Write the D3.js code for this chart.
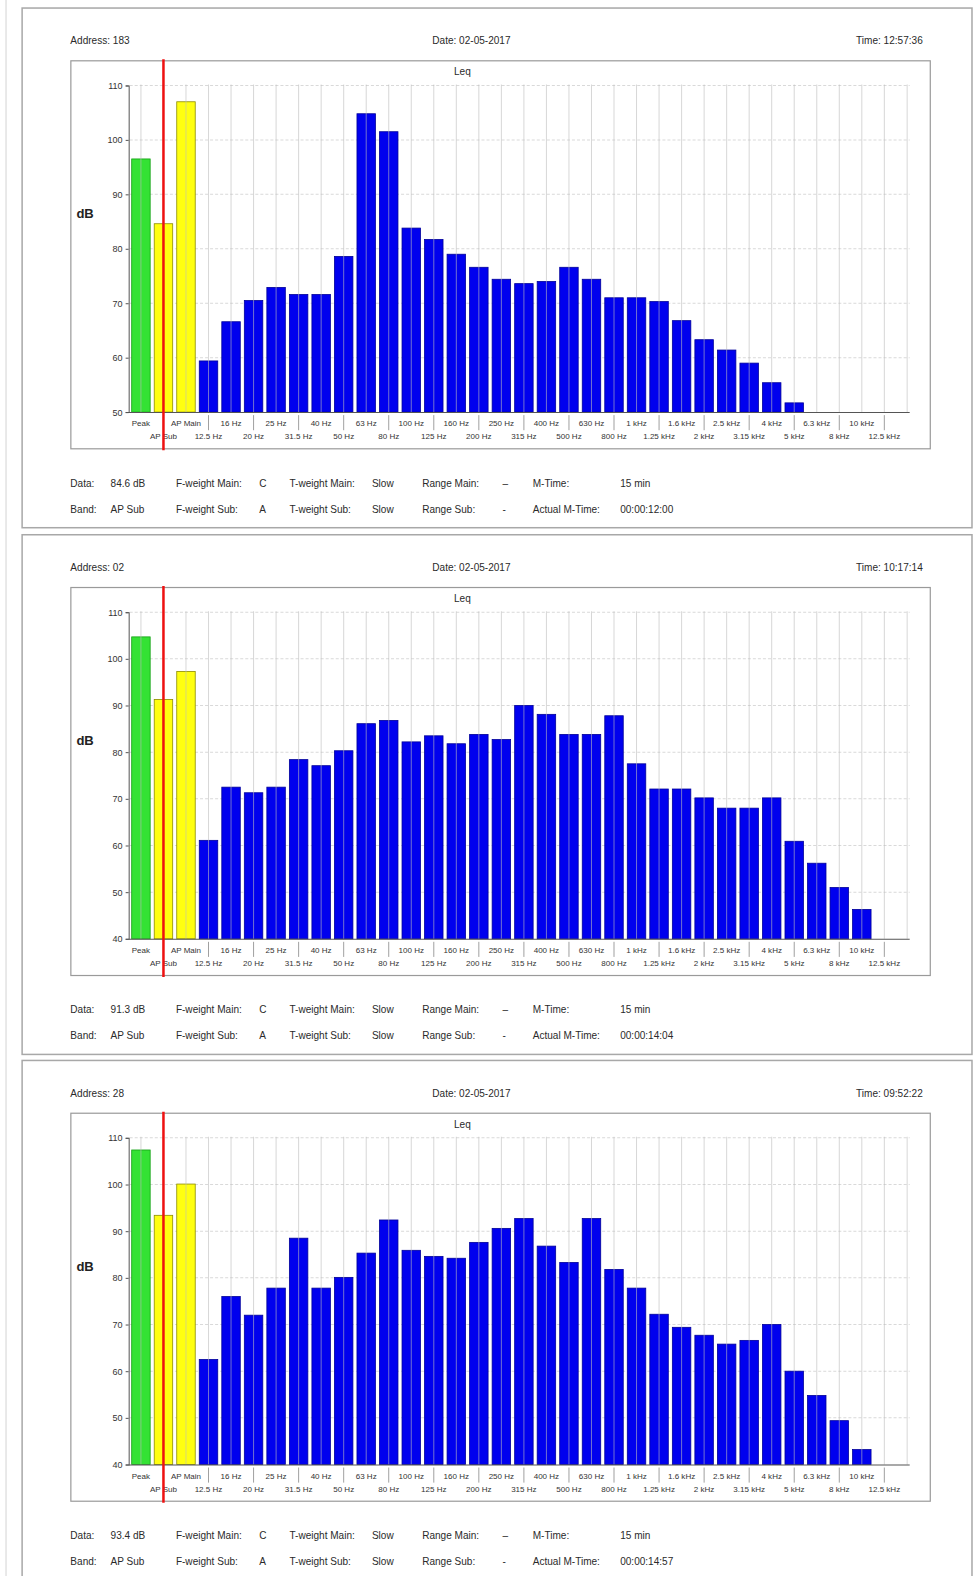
<!DOCTYPE html>
<html>
<head>
<meta charset="utf-8">
<script src="https://cdn.jsdelivr.net/npm/d3@7"></script>
<style>
  html, body { margin: 0; padding: 0; background: #fff; }
  svg { display: block; font-family: "Liberation Sans", Arial, sans-serif; }
</style>
</head>
<body>
<svg id="chart" width="973" height="1576"></svg>
<script>
// Slot labels along the x axis: overall levels first, then 1/3-octave bands
const slotLabels = ["Peak", "AP Sub", "AP Main",
  "12.5 Hz", "16 Hz", "20 Hz", "25 Hz", "31.5 Hz", "40 Hz", "50 Hz", "63 Hz", "80 Hz",
  "100 Hz", "125 Hz", "160 Hz", "200 Hz", "250 Hz", "315 Hz", "400 Hz", "500 Hz",
  "630 Hz", "800 Hz", "1 kHz", "1.25 kHz", "1.6 kHz", "2 kHz", "2.5 kHz", "3.15 kHz",
  "4 kHz", "5 kHz", "6.3 kHz", "8 kHz", "10 kHz", "12.5 kHz"];

// Leq per slot (dB); null = below the axis floor
const leqAddr183 = [96.5, 84.6, 107.0,
  59.4, 66.6, 70.5, 72.9, 71.6, 71.6, 78.6, 104.8, 101.5,
  83.8, 81.7, 79.0, 76.6, 74.4, 73.6, 74.0, 76.6,
  74.4, 71.0, 71.0, 70.3, 66.8, 63.3, 61.4, 59.0,
  55.4, 51.7, null, null, null, null];

const leqAddr02 = [104.7, 91.3, 97.3,
  61.1, 72.5, 71.3, 72.5, 78.4, 77.1, 80.3, 86.1, 86.8,
  82.2, 83.5, 81.8, 83.8, 82.7, 90.0, 88.1, 83.8,
  83.8, 87.8, 77.5, 72.1, 72.1, 70.2, 68.0, 68.0,
  70.2, 60.9, 56.2, 51.0, 46.3, null];

const leqAddr28 = [107.4, 93.4, 100.1,
  62.5, 76.0, 72.0, 77.8, 88.5, 77.8, 80.1, 85.3, 92.4,
  85.9, 84.6, 84.2, 87.6, 90.6, 92.7, 86.8, 83.3,
  92.7, 81.8, 77.8, 72.2, 69.4, 67.7, 65.8, 66.6,
  70.0, 60.0, 54.8, 49.4, 43.2, null];

// Y-axis ticks per panel
const ticksAddr183 = [50, 60, 70, 80, 90, 100, 110];
const ticksAddr40 = [40, 50, 60, 70, 80, 90, 100, 110];

// Header and footer texts per panel
const addresses = ["Address: 183", "Address: 02", "Address: 28"];
const dates = ["Date: 02-05-2017", "Date: 02-05-2017", "Date: 02-05-2017"];
const times = ["Time: 12:57:36", "Time: 10:17:14", "Time: 09:52:22"];
const dataValues = ["84.6 dB", "91.3 dB", "93.4 dB"];
const actualMTimes = ["00:00:12:00", "00:00:14:04", "00:00:14:57"];
const footerRow1 = ["Data:", null, "F-weight Main:", "C", "T-weight Main:", "Slow", "Range Main:", "–", "M-Time:", "15 min"];
const footerRow2 = ["Band:", "AP Sub", "F-weight Sub:", "A", "T-weight Sub:", "Slow", "Range Sub:", "-", "Actual M-Time:", null];

const panels = [
  { values: leqAddr183, ticks: ticksAddr183, offset: 0 },
  { values: leqAddr02, ticks: ticksAddr40, offset: 524 },
  { values: leqAddr28, ticks: ticksAddr40, offset: 1047 }
];

const svg = d3.select("#chart");
const root = svg.append("g").attr("transform", `scale(${973 / 968})`);

// faint page edge on the left
root.append("line").attr("x1", 6).attr("x2", 6).attr("y1", 0).attr("y2", 1570)
  .attr("stroke", "#e2e2e2").attr("stroke-width", 1.5);

const x = d3.scaleBand().domain(slotLabels).range([129, 891]).paddingInner(0.18).paddingOuter(0.09);
const footerX = [70, 110, 175, 258, 288, 370, 420, 500, 530, 617];

function barColor(i) {
  if (i === 0) return { fill: "#34e234", stroke: "#14a014" };
  if (i <= 2) return { fill: "#ffff10", stroke: "#8c8c00" };
  return { fill: "#0000ee", stroke: "#00009a" };
}

panels.forEach((p, k) => {
  const g = root.append("g").attr("transform", `translate(0,${p.offset})`);
  const y = d3.scaleLinear().domain([d3.min(p.ticks), d3.max(p.ticks)]).range([410, 85]);

  // outer panel frame
  g.append("rect").attr("x", 22).attr("y", 8).attr("width", 945).attr("height", 517)
    .attr("fill", "#fff").attr("stroke", "#a8a8a8").attr("stroke-width", 1.5);

  // header line
  const head = g.append("g").attr("font-size", 10).attr("fill", "#2a2a2a");
  head.append("text").attr("x", 70).attr("y", 44).text(addresses[k]);
  head.append("text").attr("x", 469).attr("y", 44).attr("text-anchor", "middle").text(dates[k]);
  head.append("text").attr("x", 918).attr("y", 44).attr("text-anchor", "end").text(times[k]);

  // inner plot frame
  g.append("rect").attr("x", 70.5).attr("y", 60.5).attr("width", 855).attr("height", 386)
    .attr("fill", "#fff").attr("stroke", "#9a9a9a").attr("stroke-width", 1.2);

  g.append("text").attr("x", 460).attr("y", 75).attr("text-anchor", "middle")
    .attr("font-size", 10).attr("fill", "#2a2a2a").text("Leq");

  // horizontal grid
  g.append("g").selectAll("line").data(p.ticks.slice(1)).join("line")
    .attr("x1", 129).attr("x2", 905)
    .attr("y1", d => y(d)).attr("y2", d => y(d))
    .attr("stroke", "#d9d9d9").attr("stroke-dasharray", "3,2");

  // bars
  const floor = y.domain()[0];
  g.append("g").selectAll("rect")
    .data(p.values.map((v, i) => ({ v, i, label: slotLabels[i] })).filter(d => d.v !== null && d.v > floor))
    .join("rect")
    .attr("x", d => x(d.label))
    .attr("width", x.bandwidth())
    .attr("y", d => y(d.v))
    .attr("height", d => y(floor) - y(d.v))
    .attr("fill", d => barColor(d.i).fill)
    .attr("stroke", d => barColor(d.i).stroke)
    .attr("stroke-width", 0.8);

  // vertical grid through slot centres
  g.append("g").selectAll("line").data(slotLabels.concat(["_end"])).join("line")
    .attr("x1", (d, i) => i < slotLabels.length ? x(d) + x.bandwidth() / 2 : 902.5)
    .attr("x2", (d, i) => i < slotLabels.length ? x(d) + x.bandwidth() / 2 : 902.5)
    .attr("y1", 84).attr("y2", 410)
    .attr("stroke", "#bdbdbd").attr("stroke-opacity", 0.6);

  // y axis
  const yAxis = g.append("g").attr("transform", "translate(128,0)")
    .call(d3.axisLeft(y).tickValues(p.ticks).tickSize(3).tickFormat(d3.format("d")));
  yAxis.select(".domain").attr("stroke", "#555");
  yAxis.selectAll(".tick line").attr("stroke", "#555");
  yAxis.selectAll("text").attr("font-size", 9).attr("fill", "#333").attr("font-family", "Liberation Sans, Arial, sans-serif").attr("x", -6);

  g.append("text").attr("x", 76).attr("y", 217).attr("font-size", 13).attr("font-weight", "bold")
    .attr("fill", "#222").text("dB");

  // x axis baseline
  g.append("line").attr("x1", 128).attr("x2", 905).attr("y1", 410.5).attr("y2", 410.5)
    .attr("stroke", "#555");

  // staggered slot labels with separators for the lower row
  const xl = g.append("g").attr("font-size", 8).attr("fill", "#333").attr("text-anchor", "middle");
  slotLabels.forEach((lab, i) => {
    const cx = x(lab) + x.bandwidth() / 2;
    if (i % 2 === 0) {
      xl.append("text").attr("x", cx).attr("y", 424).text(lab);
    } else {
      xl.append("line").attr("x1", cx).attr("x2", cx).attr("y1", 413).attr("y2", 428)
        .attr("stroke", "#888").attr("stroke-width", 0.8);
      xl.append("text").attr("x", cx).attr("y", 437).text(lab);
    }
  });

  // cursor on the selected band
  const cur = x("AP Sub") + x.bandwidth() / 2;
  g.append("line").attr("x1", cur).attr("x2", cur).attr("y1", 59).attr("y2", 448)
    .attr("stroke", "#ee1111").attr("stroke-width", 2.5);

  // footer info
  const foot = g.append("g").attr("font-size", 10).attr("fill", "#2a2a2a");
  footerRow1.forEach((t, j) => {
    const txt = t === null ? dataValues[k] : t;
    foot.append("text").attr("x", footerX[j]).attr("y", 484).text(txt);
  });
  footerRow2.forEach((t, j) => {
    const txt = t === null ? actualMTimes[k] : t;
    foot.append("text").attr("x", footerX[j]).attr("y", 510).text(txt);
  });
});
</script>
</body>
</html>
